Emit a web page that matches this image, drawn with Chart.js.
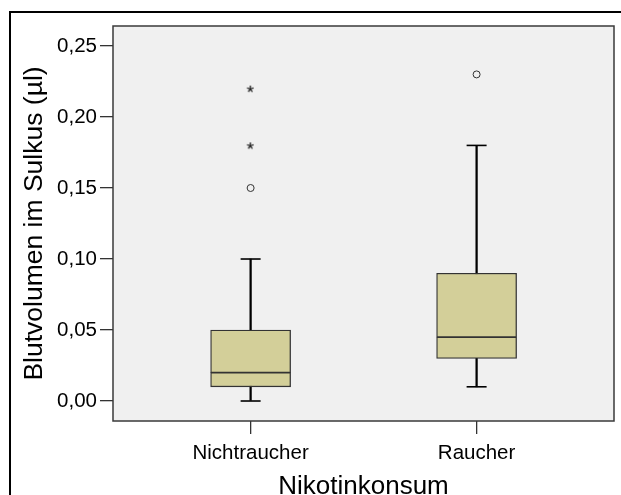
<!DOCTYPE html>
<html>
<head>
<meta charset="utf-8">
<script src="https://cdn.jsdelivr.net/npm/chart.js@4"></script>
<style>
  html, body { margin: 0; padding: 0; background: #fff; overflow: hidden; }
  #wrap { position: relative; width: 621px; height: 495px; }
  #frame { position: absolute; left: 9px; top: 11px; width: 700px; height: 600px; border: 2px solid #000; }
  #chart { position: absolute; left: 0; top: 0; }
</style>
</head>
<body>
<div id="wrap">
  <div id="frame"></div>
  <canvas id="chart" width="621" height="495"></canvas>
</div>
<script>
// groups and five-number summaries
const groups = ["Nichtraucher", "Raucher"];
const whiskerLow = [0.00, 0.01];
const q1 = [0.01, 0.03];
const median = [0.02, 0.045];
const q3 = [0.05, 0.09];
const whiskerHigh = [0.10, 0.18];
// outliers (circle) and extreme values (star)
const outliers = [[0.15], [0.23]];
const extremes = [[0.18, 0.22], []];
const yTicks = [0.00, 0.05, 0.10, 0.15, 0.20, 0.25];

const boxFill = "#d3cf99";
const edge = "#333333";
const pos = groups.map((g, i) => i + 1);

function pointsOf(lists) {
  const out = [];
  lists.forEach((vals, i) => vals.forEach(v => out.push({ x: pos[i], y: v })));
  return out;
}

// little "*" glyph used as marker for extreme values
function asteriskMarker() {
  const c = document.createElement("canvas");
  c.width = 12; c.height = 12;
  const g = c.getContext("2d");
  g.font = "19px 'Liberation Sans', Arial";
  const m = g.measureText("*");
  const w = m.actualBoundingBoxRight + m.actualBoundingBoxLeft;
  const h = m.actualBoundingBoxAscent + m.actualBoundingBoxDescent;
  g.fillStyle = "#000";
  g.fillText("*", (12 - w) / 2 + m.actualBoundingBoxLeft, (12 - h) / 2 + m.actualBoundingBoxAscent);
  return c;
}

// plot background + frame around the chart area
const plotFrame = {
  id: "plotFrame",
  beforeDraw(chart) {
    const { ctx, chartArea: a } = chart;
    ctx.save();
    ctx.fillStyle = "#f0f0f0";
    ctx.fillRect(a.left, a.top, a.right - a.left, a.bottom - a.top);
    ctx.restore();
  },
  afterDraw(chart) {
    const { ctx, chartArea: a } = chart;
    ctx.save();
    ctx.strokeStyle = "#3a3a3a";
    ctx.lineWidth = 1.5;
    ctx.strokeRect(a.left, a.top, a.right - a.left, a.bottom - a.top);
    ctx.restore();
  }
};

const tickGrid = {
  offset: false,
  drawOnChartArea: false,
  drawTicks: true,
  tickLength: 13,
  tickColor: "#333",
  lineWidth: 1.3
};

new Chart(document.getElementById("chart"), {
  type: "bar",
  data: {
    datasets: [
      {
        label: "whisker",
        data: pos.map((x, i) => ({ x, y: [whiskerLow[i], whiskerHigh[i]] })),
        backgroundColor: "#000",
        borderWidth: 0,
        barThickness: 1.6,
        grouped: false,
        order: 4
      },
      {
        label: "lower box",
        data: pos.map((x, i) => ({ x, y: [q1[i], median[i]] })),
        backgroundColor: boxFill,
        borderColor: edge,
        borderWidth: 1.3,
        borderSkipped: false,
        barThickness: 80,
        grouped: false,
        order: 3
      },
      {
        label: "upper box",
        data: pos.map((x, i) => ({ x, y: [median[i], q3[i]] })),
        backgroundColor: boxFill,
        borderColor: edge,
        borderWidth: 1.3,
        borderSkipped: false,
        barThickness: 80,
        grouped: false,
        order: 2
      },
      {
        type: "line",
        label: "caps",
        data: pos.flatMap((x, i) => [{ x, y: whiskerLow[i] }, { x, y: whiskerHigh[i] }]),
        showLine: false,
        pointStyle: "line",
        pointRadius: 10,
        pointBorderWidth: 1.6,
        pointBorderColor: "#000",
        order: 1
      },
      {
        type: "line",
        label: "outliers",
        data: pointsOf(outliers),
        showLine: false,
        pointStyle: "circle",
        pointRadius: 3.5,
        pointBorderWidth: 1,
        pointBorderColor: "#333",
        pointBackgroundColor: "rgba(0,0,0,0)",
        order: 0
      },
      {
        type: "line",
        label: "extremes",
        data: pointsOf(extremes),
        showLine: false,
        pointStyle: asteriskMarker(),
        order: 0
      }
    ]
  },
  options: {
    responsive: false,
    animation: false,
    layout: { autoPadding: false, padding: { left: 0, top: 26, right: 7, bottom: 0 } },
    plugins: { legend: { display: false }, tooltip: { enabled: false } },
    scales: {
      x: {
        type: "linear",
        offset: false,
        min: 0.391,
        max: 2.608,
        grid: tickGrid,
        border: { display: false },
        afterBuildTicks: s => { s.ticks = pos.map(v => ({ value: v })); },
        afterFit: s => { s.height = 74; s.paddingLeft = 0; s.paddingRight = 0; },
        ticks: {
          padding: 7,
          color: "#000",
          font: { family: "Liberation Sans, Arial", size: 20.5 },
          callback: v => groups[v - 1]
        },
        title: {
          display: true,
          text: "Nikotinkonsum",
          color: "#000",
          font: { family: "Liberation Sans, Arial", size: 26, lineHeight: 1 },
          padding: { top: 0, bottom: -5 }
        }
      },
      y: {
        min: -0.01408,
        max: 0.2641,
        grid: tickGrid,
        border: { display: false },
        afterBuildTicks: s => { s.ticks = yTicks.map(v => ({ value: v })); },
        afterFit: s => { s.width = 113; s.paddingTop = 0; s.paddingBottom = 0; },
        ticks: {
          padding: 3,
          color: "#000",
          font: { family: "Liberation Sans, Arial", size: 20.5 },
          callback: v => v.toFixed(2).replace(".", ",")
        },
        title: {
          display: true,
          text: "Blutvolumen im Sulkus (µl)",
          color: "#000",
          font: { family: "Liberation Sans, Arial", size: 26.5, lineHeight: 1.2 },
          padding: { top: 19, bottom: 0 }
        }
      }
    }
  },
  plugins: [plotFrame]
});
</script>
</body>
</html>
